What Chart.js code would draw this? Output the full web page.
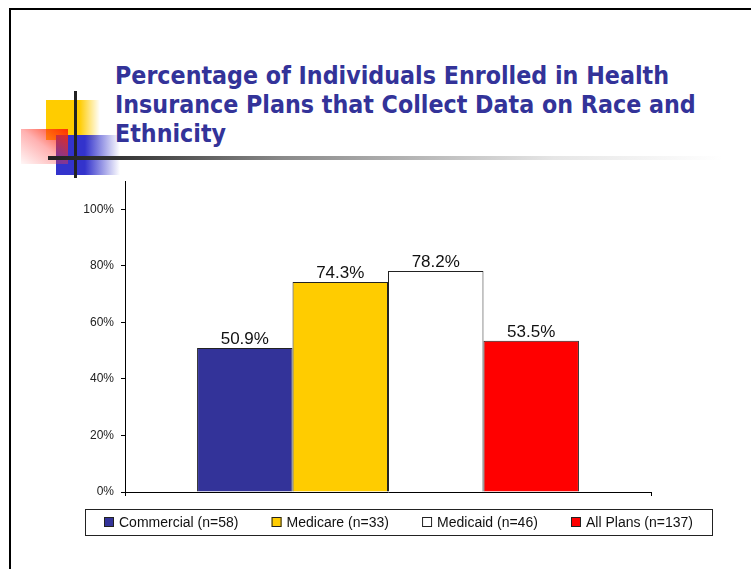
<!DOCTYPE html>
<html>
<head>
<meta charset="utf-8">
<title>Race and Ethnicity Data Collection</title>
<script src="https://cdn.jsdelivr.net/npm/chart.js@4.4.1/dist/chart.umd.min.js"></script>
<style>
  html, body { margin: 0; padding: 0; background: #fff; }
  #slide { position: relative; width: 751px; height: 569px; overflow: hidden; background: #fff; }
  #slide div { position: absolute; }
  .frame-top { left: 9px; top: 8px; width: 760px; height: 2px; background: #000; }
  .frame-left { left: 9px; top: 8px; width: 2px; height: 600px; background: #000; }
  .sq-yellow { left: 46px; top: 100px; width: 54px; height: 40px;
    background: linear-gradient(to right, #ffcc00 0%, #ffcc00 62%, rgba(255, 204, 0, 0) 100%); }
  .sq-blue { left: 56px; top: 135px; width: 64px; height: 40px;
    background: linear-gradient(to right, #3333cc 0%, #3333cc 45%, rgba(51, 51, 204, 0) 100%); }
  .sq-red { left: 21px; top: 129px; width: 47px; height: 35px;
    background: linear-gradient(to bottom left, rgba(255, 40, 0, 0.95) 0%, rgba(255, 60, 60, 0.4) 50%, rgba(255, 90, 90, 0.05) 100%); }
  .bar-v { left: 74px; top: 91px; width: 3px; height: 87px; background: #222; }
  .bar-h { left: 48px; top: 156px; width: 675px; height: 4px;
    background: linear-gradient(to right, #222 0%, #333 10%, #555 20%, #8a8a8a 35%, #b0b0b0 52%, #e6e6e6 75%, #fff 100%); }
  .title { left: 115px; top: 62px; font: bold 24px "DejaVu Sans", Verdana, sans-serif;
    line-height: 29px; color: #333399; white-space: nowrap; transform-origin: 0 0; }
  #chart { position: absolute; left: 0; top: 0; }
</style>
</head>
<body>
<div id="slide">
  <div class="frame-top"></div>
  <div class="frame-left"></div>
  <div class="sq-yellow"></div>
  <div class="sq-blue"></div>
  <div class="sq-red"></div>
  <div class="bar-v"></div>
  <div class="bar-h"></div>
  <div class="title" id="title"><span id="titleFirst">Percentage of Individuals Enrolled in Health</span><br>Insurance Plans that Collect Data on Race and<br>Ethnicity</div>
  <canvas id="chart" width="751" height="569"></canvas>
</div>
<script>
const categories = ['Commercial (n=58)', 'Medicare (n=33)', 'Medicaid (n=46)', 'All Plans (n=137)'];
const percentages = [50.9, 74.3, 78.2, 53.5];
const yTicks = [0, 20, 40, 60, 80, 100];

const barColors = ['#333399', '#ffcc00', '#ffffff', '#ff0000'];
const FONT = '"Liberation Sans", Arial, sans-serif';

// squeeze the heading so its first line runs 554px wide
const titleEl = document.getElementById('title');
const firstW = document.getElementById('titleFirst').getBoundingClientRect().width;
titleEl.style.transform = 'scaleX(' + (554 / firstW) + ')';

// value printed above each bar
const barLabels = {
  id: 'barLabels',
  afterDatasetsDraw(chart) {
    const ctx = chart.ctx;
    ctx.save();
    ctx.font = '17px ' + FONT;
    ctx.fillStyle = '#111';
    ctx.textAlign = 'center';
    ctx.textBaseline = 'alphabetic';
    chart.data.datasets.forEach((ds, i) => {
      chart.getDatasetMeta(i).data.forEach((bar, j) => {
        ctx.fillText(ds.data[j].toFixed(1) + '%', bar.x, bar.y - 4);
      });
    });
    ctx.restore();
  }
};

// boxed legend under the plot, items spread across the box
const boxLegend = {
  id: 'boxLegend',
  afterDraw(chart, args, opts) {
    const ctx = chart.ctx;
    const { left, top, right, bottom, inset, box } = opts;
    ctx.save();
    ctx.strokeStyle = '#222';
    ctx.lineWidth = 1;
    ctx.strokeRect(left + 0.5, top + 0.5, right - left, bottom - top);

    ctx.font = '14px ' + FONT;
    ctx.textBaseline = 'middle';
    const sets = chart.data.datasets;
    const widths = sets.map(ds => box + 5 + ctx.measureText(ds.label).width);
    const used = widths.reduce((a, b) => a + b, 0);
    const gap = (right - left - 2 * inset - used) / (sets.length - 1);
    const cy = (top + bottom) / 2;
    let x = left + inset;
    sets.forEach((ds, i) => {
      ctx.fillStyle = ds.backgroundColor;
      ctx.fillRect(x, cy - box / 2, box, box);
      ctx.strokeStyle = '#222';
      ctx.strokeRect(x + 0.5, cy - box / 2 + 0.5, box - 1, box - 1);
      ctx.fillStyle = '#111';
      ctx.fillText(ds.label, x + box + 5, cy + 1);
      x += widths[i] + gap;
    });
    ctx.restore();
  }
};

new Chart(document.getElementById('chart'), {
  type: 'bar',
  data: {
    labels: [''],
    datasets: categories.map((name, i) => ({
      label: name,
      data: [percentages[i]],
      backgroundColor: barColors[i],
      borderColor: '#222',
      borderWidth: 1,
      categoryPercentage: 0.726,
      barPercentage: 1
    }))
  },
  options: {
    responsive: false,
    animation: false,
    devicePixelRatio: 1,
    layout: { padding: { left: 0, right: 100, top: 181, bottom: 73 } },
    plugins: {
      legend: { display: false },
      tooltip: { enabled: false },
      boxLegend: { left: 85, top: 509, right: 712, bottom: 535, inset: 19, box: 10 }
    },
    scales: {
      x: {
        ticks: { display: false },
        grid: { drawOnChartArea: false, tickLength: 4, color: '#000', offset: true },
        border: { color: '#000', width: 1 },
        afterFit(scale) { scale.height = 4; }
      },
      y: {
        min: 0,
        max: 110,
        afterBuildTicks(scale) { scale.ticks = yTicks.map(v => ({ value: v })); },
        afterFit(scale) { scale.width = 125; },
        ticks: {
          padding: 7,
          color: '#222',
          font: { family: FONT, size: 12 },
          callback: v => v + '%'
        },
        grid: { drawOnChartArea: false, tickLength: 4, color: '#000' },
        border: { color: '#000', width: 1 }
      }
    }
  },
  plugins: [barLabels, boxLegend]
});
</script>
</body>
</html>
